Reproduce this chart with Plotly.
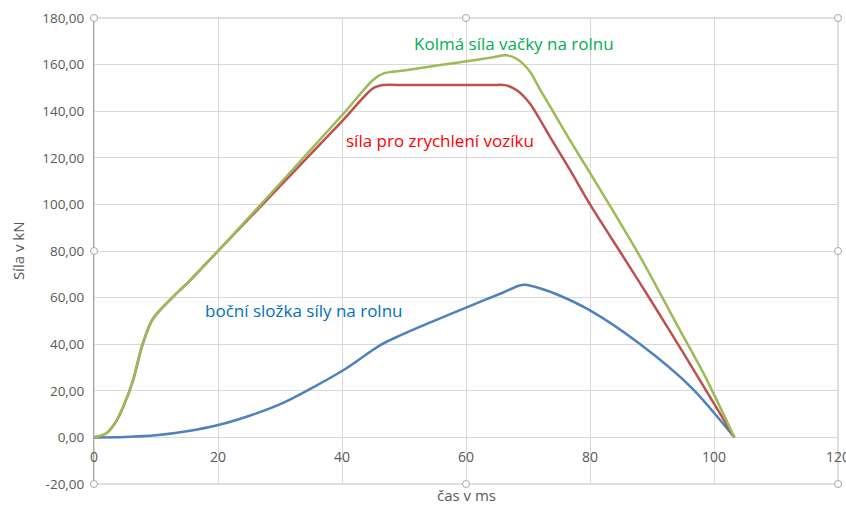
import plotly.graph_objects as go

# ---- data ----
green_x = [0, 2, 3.6, 4.7, 6.3, 7.7, 9.3, 10.6, 13, 15.5, 20, 40.1, 45, 46.7, 50, 55.8, 60.4, 64, 66.5,
           68.3, 70.3, 72, 73.8, 77, 80, 83.2, 88.3, 94.5, 98.5, 103.3]
green_y = [0, 1.8, 7, 13, 24.5, 38.8, 50, 54.5, 61, 67.4, 80, 138.5, 153.4, 156.2, 157.5, 159.8, 161.5, 163, 164,
           162.3, 157, 149, 141, 126.5, 113.5, 99.5, 76.5, 46, 26.5, 0]

red_x = [0, 2, 3.6, 4.7, 6.3, 7.7, 9.3, 10.6, 13, 15.5, 20, 40.1, 45, 46.7, 50, 58, 64, 66.3,
         68.2, 70.3, 73.5, 76.8, 80, 85.4, 90, 95, 103.3]
red_y = [0, 1.8, 7, 13, 24.5, 38.8, 50, 54.5, 61, 67.4, 80, 136, 149.8, 151.2, 151.2, 151.2, 151.2, 151.2,
         149, 143.3, 129.2, 114.7, 100, 77.4, 58, 36.5, 0]

blue_x = [0, 5, 10, 15, 20.2, 25.2, 30.5, 40.2, 46.1, 49.4, 53, 60.3, 66, 68.5, 69.5, 71.9, 75, 80, 88,
          96.4, 103.3]
blue_y = [0, 0.2, 0.9, 2.6, 5.4, 9.4, 14.8, 28.8, 39.5, 43.8, 48, 56, 62.2, 65.1, 65.5, 64, 61, 54.5, 40.2,
          21.3, 0]

x_ticks = [0, 20, 40, 60, 80, 100, 120]
x_ticktext = ["0", "20", "40", "60", "80", "100", "120"]
y_ticks = [-20, 0, 20, 40, 60, 80, 100, 120, 140, 160, 180]
y_ticktext = ["-20,00", "0,00", "20,00", "40,00", "60,00", "80,00", "100,00", "120,00", "140,00", "160,00", "180,00"]

labels = ["Kolmá síla vačky na rolnu", "síla pro zrychlení vozíku", "boční složka síly na rolnu"]
label_x = [51.3, 40.3, 17.6]
label_y = [169.2, 127.6, 54.5]
label_colors = ["#00B050", "#FF0000", "#0070C0"]

FONT = "Open Sans"

fig = go.Figure()
for xs, ys, col in [(blue_x, blue_y, "#4F81BD"), (red_x, red_y, "#C0504D"), (green_x, green_y, "#9BBB59")]:
    fig.add_trace(go.Scatter(x=xs, y=ys, mode="lines",
                             line=dict(color=col, width=2.5, shape="spline", smoothing=0.8),
                             hoverinfo="skip", showlegend=False))

annotations = []
for t, ax, ay, c in zip(labels, label_x, label_y, label_colors):
    annotations.append(dict(text=t, x=ax, y=ay, xref="x", yref="y", xanchor="left", yanchor="middle",
                            showarrow=False, font=dict(family=FONT, size=17, color=c)))
annotations.append(dict(text="Síla v kN", x=-0.102, y=0.5, xref="paper", yref="paper", textangle=-90,
                        xanchor="center", yanchor="middle", showarrow=False,
                        font=dict(family=FONT, size=15, color="#595959")))
annotations.append(dict(text="čas v ms", x=0.501, y=-0.024, xref="paper", yref="paper",
                        xanchor="center", yanchor="middle", showarrow=False,
                        font=dict(family=FONT, size=15, color="#595959")))

shapes = [dict(type="rect", xref="paper", yref="paper", x0=0, x1=1, y0=0, y1=1,
               line=dict(color="#BFBFBF", width=1), layer="below")]
for px, py in [(0, 0), (0.5, 0), (1, 0), (0, 0.5), (1, 0.5), (0, 1), (0.5, 1), (1, 1)]:
    shapes.append(dict(type="circle", xref="paper", yref="paper", xsizemode="pixel", ysizemode="pixel",
                       xanchor=px, yanchor=py, x0=-3.5, x1=3.5, y0=-3.5, y1=3.5,
                       line=dict(color="#A6A6A6", width=1), fillcolor="white", layer="above"))

fig.update_layout(
    width=846, height=506,
    margin=dict(l=94, r=8, t=18, b=22),
    paper_bgcolor="white", plot_bgcolor="white",
    font=dict(family=FONT, color="#595959"),
    annotations=annotations, shapes=shapes,
    xaxis=dict(range=[0, 120], tickvals=x_ticks, ticktext=x_ticktext, showgrid=True, gridcolor="#D9D9D9",
               gridwidth=1, zeroline=False, showline=False, anchor="free", position=0.1,
               tickfont=dict(family=FONT, size=14, color="#595959"), ticks="", ticklabelstandoff=10,
               ticklabeloverflow="allow", automargin=False),
    yaxis=dict(range=[-20, 180], tickvals=y_ticks, ticktext=y_ticktext, showgrid=True, gridcolor="#D9D9D9",
               gridwidth=1, zeroline=False, showline=True, linecolor="#A6A6A6", linewidth=1,
               tickfont=dict(family=FONT, size=13.5, color="#595959"), ticks="", ticklabelstandoff=6,
               automargin=False),
)

fig.write_html("out.html")
